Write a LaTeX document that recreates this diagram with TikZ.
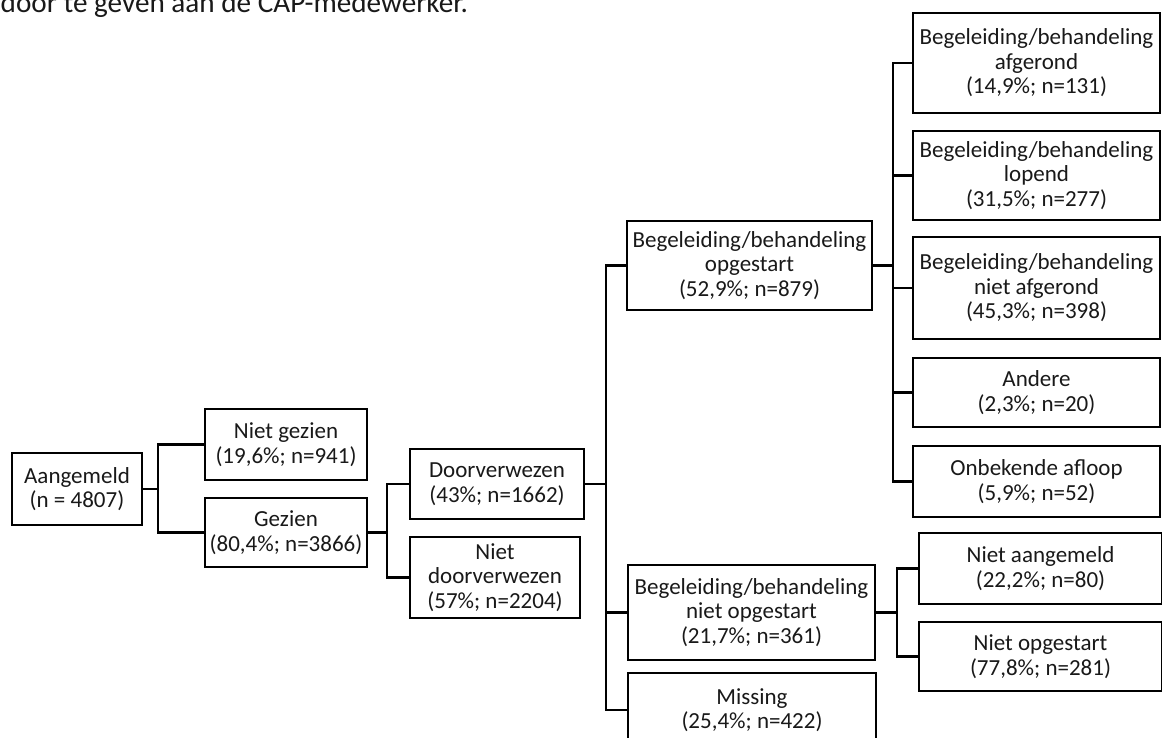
\documentclass[tikz,border=0pt]{standalone}
\usepackage{fontspec}
\setmainfont{Carlito}
\begin{document}
\begin{tikzpicture}[x=1pt,y=-1pt,
  box/.style={draw=black,line width=2.4pt,fill=white,align=center,inner sep=0pt,
    font=\fontsize{23}{24.5}\selectfont,text=black!90},
  link/.style={draw=black,line width=2.3pt,line join=miter}]
\useasboundingbox (0,0) rectangle (1162,738);
\node[anchor=base west,inner sep=0pt,font=\fontsize{29.2}{34}\selectfont,text=black!90] (title) at (0.5,12.5) {door te geven aan de CAP-medewerker.};
% nodes
\node[box,minimum width=130pt,minimum height=72pt] (aan) at (77,489) {Aangemeld\\(n = 4807)};
\node[box,minimum width=162pt,minimum height=71pt] (ng) at (286,444.5) {Niet gezien\\(19,6\%; n=941)};
\node[box,minimum width=162pt,minimum height=69pt] (gez) at (286,532.5) {Gezien\\(80,4\%; n=3866)};
\node[box,minimum width=174pt,minimum height=70pt] (dv) at (497,484) {Doorverwezen\\(43\%; n=1662)};
\node[box,minimum width=170pt,minimum height=81pt] (ndv) at (495,577.5) {Niet\\doorverwezen\\(57\%; n=2204)};
\node[box,minimum width=245pt,minimum height=89pt] (bo) at (749.5,265.5) {Begeleiding/behandeling\\opgestart\\(52,9\%; n=879)};
\node[box,minimum width=247pt,minimum height=95pt] (bno) at (751.5,612.5) {Begeleiding/behandeling\\niet opgestart\\(21,7\%; n=361)};
\node[box,minimum width=248pt,minimum height=74pt] (mis) at (752,710) {Missing\\(25,4\%; n=422)};
\node[box,minimum width=247pt,minimum height=100pt] (r1) at (1036.5,63) {Begeleiding/behandeling\\afgerond\\(14,9\%; n=131)};
\node[box,minimum width=247pt,minimum height=89pt] (r2) at (1036.5,175.5) {Begeleiding/behandeling\\lopend\\(31,5\%; n=277)};
\node[box,minimum width=247pt,minimum height=102pt] (r3) at (1036.5,288) {Begeleiding/behandeling\\niet afgerond\\(45,3\%; n=398)};
\node[box,minimum width=247pt,minimum height=69pt] (r4) at (1036.5,392.5) {Andere\\(2,3\%; n=20)};
\node[box,minimum width=247pt,minimum height=71pt] (r5) at (1036.5,481.5) {Onbekende afloop\\(5,9\%; n=52)};
\node[box,minimum width=243pt,minimum height=71pt] (na) at (1040.5,568.5) {Niet aangemeld\\(22,2\%; n=80)};
\node[box,minimum width=243pt,minimum height=69pt] (no) at (1040.5,656.5) {Niet opgestart\\(77,8\%; n=281)};
% junctions
\coordinate (j1) at (158,489);
\coordinate (j2) at (387,532.5);
\coordinate (j3) at (606,484);
\coordinate (j4) at (893,265.5);
\coordinate (j5) at (897,612.5);
% connectors
\draw[link] (aan.east) -- (j1) |- (ng.west);
\draw[link] (j1) |- (gez.west);
\draw[link] (gez.east) -- (j2) |- (dv.west);
\draw[link] (j2) |- (ndv.west);
\draw[link] (dv.east) -- (j3) |- (bo.west);
\draw[link] (j3) |- (bno.west);
\draw[link] (j3) |- (mis.west);
\draw[link] (bo.east) -- (j4) |- (r1.west);
\draw[link] (j4) |- (r2.west);
\draw[link] (j4) |- (r3.west);
\draw[link] (j4) |- (r4.west);
\draw[link] (j4) |- (r5.west);
\draw[link] (bno.east) -- (j5) |- (na.west);
\draw[link] (j5) |- (no.west);
\end{tikzpicture}
\end{document}
